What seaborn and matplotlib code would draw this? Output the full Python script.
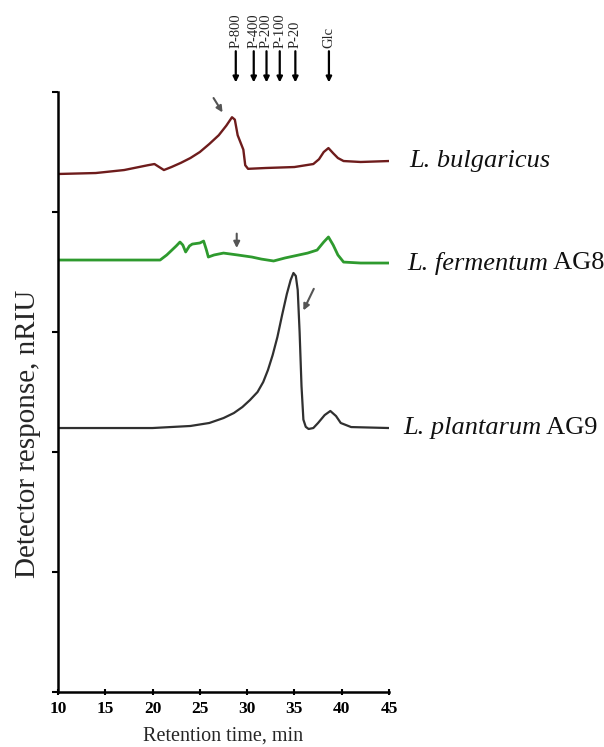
import numpy as np
import pandas as pd
import matplotlib
matplotlib.use("Agg")
import matplotlib.pyplot as plt
import seaborn as sns

# Refractive-index chromatograms (stacked, arbitrary offsets)
bulg_time = [10, 14, 17, 19.5, 20.2, 20.8, 21.2, 22, 23, 24, 25, 26, 27, 27.8, 28.4,
             28.7, 29.0, 29.3, 29.6, 29.8, 30.1, 32, 35, 37, 37.6, 38.1, 38.6, 39.1,
             39.6, 40.2, 42, 45]
bulg_signal = [4.317, 4.325, 4.35, 4.39, 4.40, 4.37, 4.35, 4.375, 4.41, 4.45, 4.50,
               4.567, 4.64, 4.72, 4.79, 4.77, 4.64, 4.58, 4.52, 4.39, 4.36, 4.367,
               4.375, 4.40, 4.44, 4.50, 4.533, 4.49, 4.45, 4.425, 4.417, 4.425]

ferm_time = [10, 20.8, 21.5, 22.5, 22.9, 23.2, 23.5, 23.9, 24.2, 25.0, 25.4, 25.7, 25.9,
             26.5, 27.5, 29, 30.5, 31.5, 32.8, 34, 36.4, 37.4, 38.1, 38.6, 39.1, 39.6,
             40.2, 42, 45]
ferm_signal = [3.60, 3.60, 3.642, 3.717, 3.75, 3.725, 3.667, 3.717, 3.733, 3.742, 3.758,
               3.683, 3.625, 3.642, 3.658, 3.642, 3.625, 3.608, 3.592, 3.617, 3.658,
               3.683, 3.75, 3.792, 3.725, 3.642, 3.583, 3.575, 3.575]

plant_time = [10, 20, 24, 26, 27.5, 28.6, 29.5, 30.3, 31.1, 31.7, 32.2, 32.7, 33.2, 33.7,
              34.2, 34.6, 34.9, 35.15, 35.35, 35.55, 35.75, 35.95, 36.2, 36.5, 37.0,
              37.5, 38.2, 38.8, 39.4, 39.9, 41, 45]
plant_signal = [2.20, 2.20, 2.217, 2.242, 2.283, 2.325, 2.375, 2.433, 2.50, 2.583, 2.683,
                2.808, 2.958, 3.142, 3.317, 3.433, 3.492, 3.467, 3.35, 3.00, 2.55, 2.27,
                2.21, 2.192, 2.20, 2.242, 2.308, 2.342, 2.30, 2.242, 2.208, 2.20]

# Elution positions of pullulan standards and glucose
std_labels = ["P-800", "P-400", "P-200", "P-100", "P-20", "Glc"]
std_time = [28.8, 30.7, 32.05, 33.45, 35.1, 38.65]

strain_genus = ["L. bulgaricus", "L. fermentum", "L. plantarum"]
strain_code = ["", "AG8", "AG9"]

sns.set_theme(style="ticks")
plt.rcParams["font.family"] = ["Liberation Serif", "DejaVu Serif"]

fig = plt.figure(figsize=(6.04, 7.47), dpi=100)
ax = fig.add_axes([0.096, 0.0736, 0.548, 0.8032])

curves = [
    (bulg_time, bulg_signal, "#6e1c1c", 1.7),
    (ferm_time, ferm_signal, "#2e9a2e", 2.0),
    (plant_time, plant_signal, "#303030", 1.6),
]
label_shift = [2.2, 1.9, 1.5]
for (t, s, c, lw), genus, code, dx in zip(curves, strain_genus, strain_code, label_shift):
    df = pd.DataFrame({"time": t, "signal": s})
    sns.lineplot(data=df, x="time", y="signal", ax=ax, color=c, lw=lw,
                 estimator=None, sort=False)
    name = ax.text(t[-1] + dx, s[-1], genus, fontsize=19, style="italic",
                   va="center", ha="left", clip_on=False, color="#111111")
    if code:
        ax.annotate(" " + code, xy=(1, 0.5), xycoords=name, fontsize=19,
                    va="center", ha="left", color="#111111",
                    annotation_clip=False)

ax.set_xlim(10, 45)
ax.set_ylim(0, 5)
ax.set_xticks([10, 15, 20, 25, 30, 35, 40, 45])
ax.set_yticks([0, 1, 2, 3, 4, 5])
ax.set_yticklabels([])
ax.tick_params(axis="x", direction="inout", length=5, width=1.5, labelsize=12.5,
               pad=4, colors="black")
ax.tick_params(axis="y", direction="out", length=4, width=1.5, colors="black")
for lab in ax.get_xticklabels():
    lab.set_fontweight("bold")
ax.spines["top"].set_visible(False)
ax.spines["right"].set_visible(False)
for sp in ("left", "bottom"):
    ax.spines[sp].set_linewidth(1.8)
    ax.spines[sp].set_color("black")

ax.set_xlabel("Retention time, min", fontsize=14.5, labelpad=7)
ax.set_ylabel("Detector response, nRIU", fontsize=21)
ax.yaxis.set_label_coords(-0.05, 0.43)

# Standard markers above the plot
for lab, t in zip(std_labels, std_time):
    ax.annotate("", xy=(t, 5.08), xytext=(t, 5.34), xycoords="data",
                arrowprops=dict(arrowstyle="-|>", color="black", lw=1.6,
                                mutation_scale=8, shrinkA=0, shrinkB=0),
                annotation_clip=False)
    ax.text(t, 5.37, lab, rotation=90, fontsize=10.5, ha="center", va="bottom",
            clip_on=False)

# Peak pointers
pointer_kw = dict(arrowstyle="-|>", color="#555555", lw=1.5, mutation_scale=9,
                  shrinkA=0, shrinkB=0)
ax.annotate("", xy=(27.4, 4.83), xytext=(26.45, 4.95), arrowprops=pointer_kw)
ax.annotate("", xy=(28.9, 3.70), xytext=(28.9, 3.82), arrowprops=pointer_kw)
ax.annotate("", xy=(35.95, 3.18), xytext=(37.05, 3.36), arrowprops=pointer_kw)

fig.savefig("out.png", dpi=100)
